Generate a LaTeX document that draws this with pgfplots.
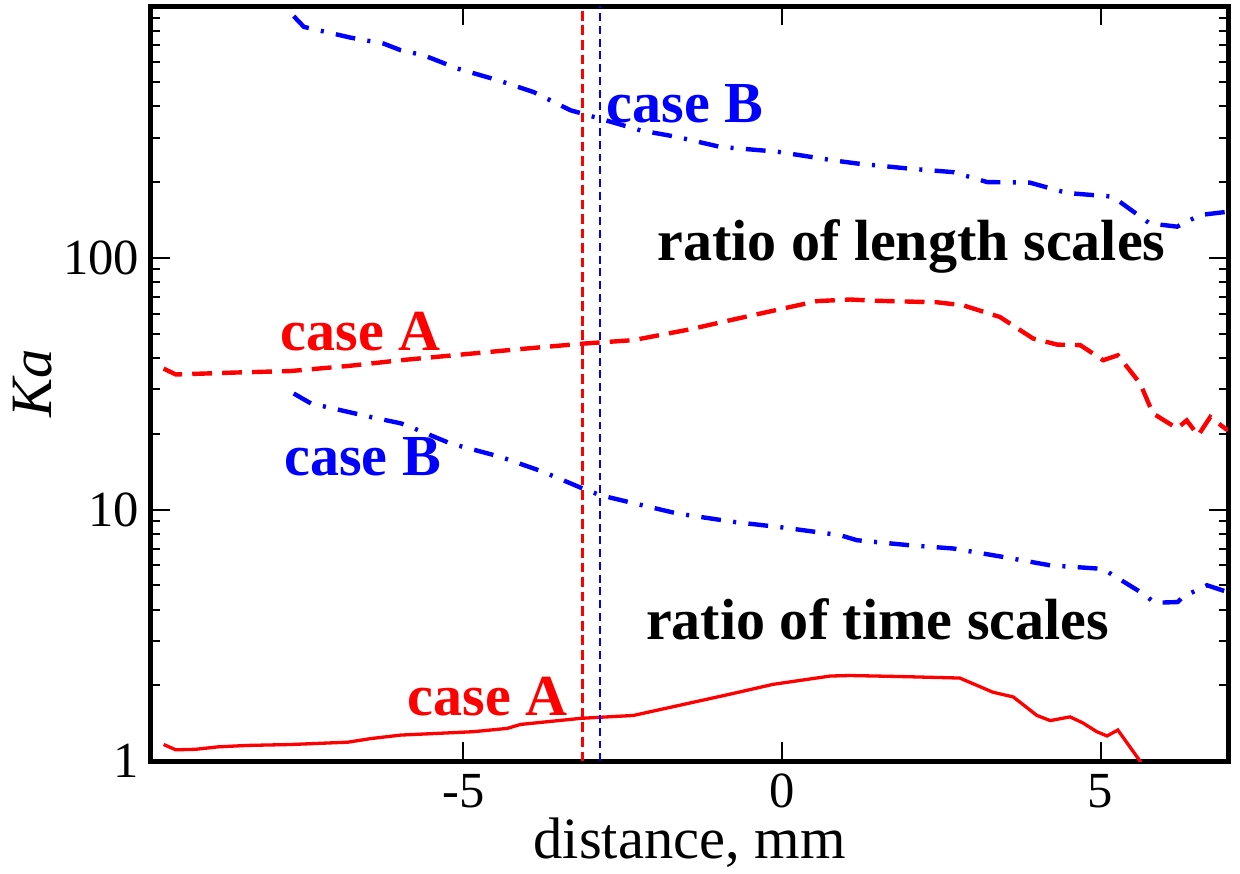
\documentclass[border=0pt]{standalone}
\usepackage{fontspec}
\setmainfont{Liberation Serif}
\usepackage{pgfplots}
\pgfplotsset{compat=1.18}
\begin{document}
\begin{tikzpicture}
\begin{axis}[
  scale only axis, width=244.8pt, height=171.6pt,
  ymode=log, xmin=-9.9, xmax=7, ymin=1, ymax=1000,
  axis line style={line width=1.15pt},
  tick style={line width=0.45pt, black},
  major tick length=4.3pt, minor tick length=2.1pt,
  tick align=inside,
  xtick={-5,0,5}, xticklabels={-5,0,5},
  ytick={1,10,100}, yticklabels={1,10,100},
  minor ytick={2,3,4,5,6,7,8,9,20,30,40,50,60,70,80,90,200,300,400,500,600,700,800,900},
  minor xtick={},
  ticklabel style={font=\fontsize{11.5}{13}\selectfont},
  xticklabel style={anchor=base, yshift=-10.5pt},
  yticklabel style={inner sep=0pt, xshift=-2.5pt},
  xlabel={distance, mm},
  ylabel={\textit{Ka}},
  xlabel style={font=\fontsize{13.3}{15}\selectfont, at={(axis description cs:0.5,0)}, anchor=base, yshift=-22pt},
  ylabel style={font=\fontsize{13.3}{15}\selectfont, at={(axis description cs:0,0.5)}, anchor=center, rotate=0, yshift=26.8pt},
]
% case A, time scales
\addplot[red, line width=0.75pt] coordinates {
(-9.70,1.165) (-9.51,1.11) (-9.2,1.115) (-8.85,1.14) (-8.4,1.155) (-7.71,1.165) (-6.81,1.19) (-6.45,1.23) (-5.98,1.27) (-5.4,1.29) (-4.84,1.31) (-4.31,1.35) (-4.10,1.40) (-3.16,1.48) (-2.33,1.52) (-1.55,1.68) (-0.76,1.86) (-0.14,2.02) (0.76,2.18) (1.07,2.19) (1.85,2.17) (2.79,2.14) (3.31,1.88) (3.63,1.80) (4.00,1.52) (4.21,1.45) (4.52,1.50) (4.72,1.42) (4.94,1.31) (5.10,1.26) (5.27,1.33) (5.62,1.0) (5.8,0.85)
};
% case A, length scales
\addplot[red, line width=1.0pt, dash pattern=on 4.5pt off 2.3pt] coordinates {
(-9.70,36.3) (-9.51,34.4) (-8.6,35.0) (-7.71,35.5) (-6.8,37.2) (-5.98,39.2) (-4.15,43.3) (-3.13,45.6) (-2.33,47.1) (-1.44,52.0) (-0.76,56.9) (0.02,62.9) (0.55,67.3) (1.07,68.3) (1.49,67.5) (2.43,66.6) (2.84,64.8) (3.42,58.2) (3.94,47.8) (4.32,45.2) (4.68,45.0) (5.04,39.2) (5.27,41.0) (5.62,31.7) (5.82,24.1) (6.20,21.0) (6.35,22.6) (6.53,19.7) (6.72,23.3) (6.92,21.3) (7.0,20.6)
};
% case B, time scales
\addplot[blue, line width=1.0pt, dash pattern=on 4.5pt off 2.8pt on 0.7pt off 2.8pt] coordinates {
(-7.66,28.9) (-7.39,26.4) (-6.92,24.8) (-6.45,23.3) (-5.98,22.0) (-5.83,21.3) (-5.20,18.3) (-4.42,16.2) (-3.74,14.1) (-3.12,12.1) (-2.85,11.4) (-2.33,10.6) (-1.64,9.64) (-0.76,8.93) (0.02,8.48) (0.91,7.91) (1.18,7.55) (2.01,7.21) (2.69,7.0) (3.47,6.48) (4.21,6.0) (4.94,5.83) (5.04,5.8) (5.66,4.64) (5.85,4.26) (6.21,4.29) (6.29,4.50) (6.67,5.0) (6.98,4.71)
};
% case B, length scales
\addplot[blue, line width=1.0pt, dash pattern=on 4.5pt off 2.8pt on 0.7pt off 2.8pt] coordinates {
(-7.66,912) (-7.50,827) (-6.77,750) (-6.25,710) (-5.98,668) (-5.62,638) (-5.09,565) (-4.46,508) (-3.90,456) (-3.32,386) (-2.85,357) (-2.22,321) (-1.64,302) (-0.97,276) (-0.07,264) (0.80,244) (1.18,237) (2.01,226) (2.69,219) (3.22,200) (3.89,199) (4.47,181) (5.19,175) (5.77,137) (6.20,133) (6.56,148) (6.95,152)
};
% vertical markers
\addplot[red, line width=0.5pt, dash pattern=on 2.2pt off 1.1pt] coordinates {(-3.13,1) (-3.13,1000)};
\addplot[blue, line width=0.5pt, dash pattern=on 1.8pt off 1.1pt] coordinates {(-2.85,1) (-2.85,1000)};
% labels
\node[text=blue, font=\bfseries\fontsize{13.2}{15}\selectfont, anchor=base] at (axis cs:-1.52,346) {case B};
\node[text=black, font=\bfseries\fontsize{13.2}{15}\selectfont, anchor=base] at (axis cs:2.03,97.8) {ratio of length scales};
\node[text=red, font=\bfseries\fontsize{13.2}{15}\selectfont, anchor=base] at (axis cs:-6.61,42.9) {case A};
\node[text=blue, font=\bfseries\fontsize{13.2}{15}\selectfont, anchor=base] at (axis cs:-6.58,13.7) {case B};
\node[text=black, font=\bfseries\fontsize{13.2}{15}\selectfont, anchor=base] at (axis cs:1.50,3.05) {ratio of time scales};
\node[text=red, font=\bfseries\fontsize{13.2}{15}\selectfont, anchor=base] at (axis cs:-4.62,1.52) {case A};
\end{axis}
\pgfresetboundingbox
\path[use as bounding box] ([shift={(-34.3pt,-25.5pt)}]current axis.south west) rectangle ([shift={(2.7pt,1.4pt)}]current axis.north east);
\end{tikzpicture}
\end{document}
